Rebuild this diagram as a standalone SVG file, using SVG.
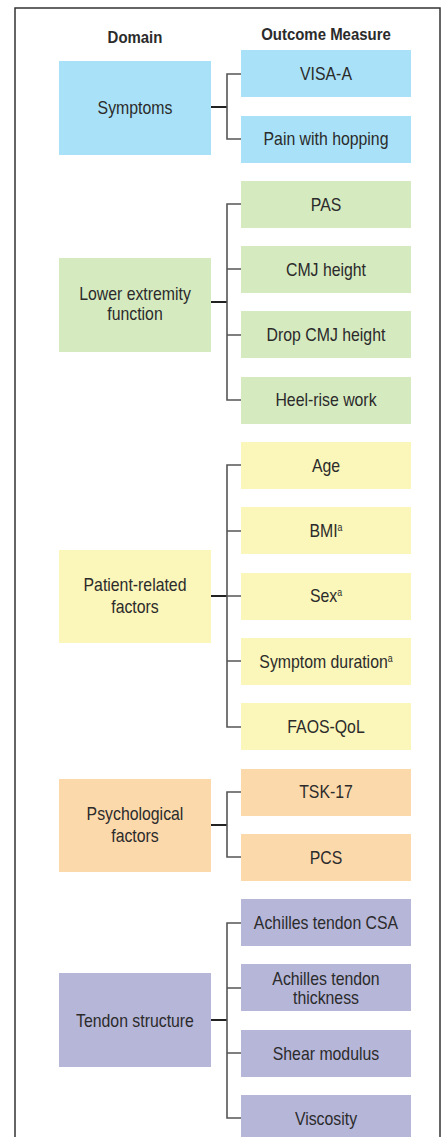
<svg xmlns="http://www.w3.org/2000/svg" width="445" height="1137" viewBox="0 0 445 1137">
<style>
text{font-family:"Liberation Sans",Arial,sans-serif;font-size:18px;fill:#2b2b2b;text-anchor:middle}
.h{font-weight:bold;font-size:17px}
.sup{font-size:10px}
.b{fill:#a9e2f8}.g{fill:#d6eac0}.y{fill:#fbf6b9}.o{fill:#fcd9ab}.p{fill:#b6b6d9}
.m{stroke:#222;stroke-width:2;fill:none}
.br{stroke:#555;stroke-width:1.6;fill:none}
</style>
<rect x="15" y="8" width="425" height="1140" fill="#fff" stroke="#333" stroke-width="1.5"/>
<g transform="scale(0.88 1)">
<text class="h" x="153.41" y="43">Domain</text>
<text class="h" x="370.45" y="40">Outcome Measure</text>
</g>
<g id="connectors">
<path class="m" d="M211 107H227"/><path class="br" d="M241 74H227V139H241"/>
<path class="m" d="M211 302H227"/><path class="br" d="M241 204H227V400H241M227 269H241M227 335H241"/>
<path class="m" d="M211 596H227"/><path class="br" d="M241 465H227V727H241M227 531H241M227 596H241M227 661H241"/>
<path class="m" d="M211 825H227"/><path class="br" d="M241 792H227V857H241"/>
<path class="m" d="M211 1020H227"/><path class="br" d="M241 923H227V1118H241M227 988H241M227 1053H241"/>
</g>
<g id="d-symptoms"><rect class="b" x="59" y="61" width="152" height="94"/><text transform="scale(0.88 1)" x="153.41" y="114">Symptoms</text></g>
<g id="o-visa"><rect class="b" x="241" y="50" width="170" height="47"/><text transform="scale(0.88 1)" x="370.45" y="80">VISA-A</text></g>
<g id="o-pain"><rect class="b" x="241" y="116" width="170" height="47"/><text transform="scale(0.88 1)" x="370.45" y="145">Pain with hopping</text></g>
<g id="d-lower"><rect class="g" x="59" y="258" width="152" height="94"/><text transform="scale(0.88 1)" x="153.41" y="300">Lower extremity</text><text transform="scale(0.88 1)" x="153.41" y="320">function</text></g>
<g id="o-pas"><rect class="g" x="241" y="181" width="170" height="47"/><text transform="scale(0.88 1)" x="370.45" y="211">PAS</text></g>
<g id="o-cmj"><rect class="g" x="241" y="246" width="170" height="47"/><text transform="scale(0.88 1)" x="370.45" y="276">CMJ height</text></g>
<g id="o-dcmj"><rect class="g" x="241" y="311" width="170" height="47"/><text transform="scale(0.88 1)" x="370.45" y="341">Drop CMJ height</text></g>
<g id="o-heel"><rect class="g" x="241" y="377" width="170" height="47"/><text transform="scale(0.88 1)" x="370.45" y="406">Heel-rise work</text></g>
<g id="d-patient"><rect class="y" x="59" y="550" width="152" height="93"/><text transform="scale(0.88 1)" x="153.41" y="591">Patient-related</text><text transform="scale(0.88 1)" x="153.41" y="613">factors</text></g>
<g id="o-age"><rect class="y" x="241" y="442" width="170" height="47"/><text transform="scale(0.88 1)" x="370.45" y="472">Age</text></g>
<g id="o-bmi"><rect class="y" x="241" y="507" width="170" height="47"/><text transform="scale(0.88 1)" x="370.45" y="537">BMI<tspan class="sup" dy="-6">a</tspan></text></g>
<g id="o-sex"><rect class="y" x="241" y="573" width="170" height="47"/><text transform="scale(0.88 1)" x="370.45" y="602">Sex<tspan class="sup" dy="-6">a</tspan></text></g>
<g id="o-dur"><rect class="y" x="241" y="638" width="170" height="47"/><text transform="scale(0.88 1)" x="370.45" y="668">Symptom duration<tspan class="sup" dy="-6">a</tspan></text></g>
<g id="o-faos"><rect class="y" x="241" y="703" width="170" height="47"/><text transform="scale(0.88 1)" x="370.45" y="733">FAOS-QoL</text></g>
<g id="d-psych"><rect class="o" x="59" y="779" width="152" height="93"/><text transform="scale(0.88 1)" x="153.41" y="820">Psychological</text><text transform="scale(0.88 1)" x="153.41" y="842">factors</text></g>
<g id="o-tsk"><rect class="o" x="241" y="769" width="170" height="47"/><text transform="scale(0.88 1)" x="370.45" y="798">TSK-17</text></g>
<g id="o-pcs"><rect class="o" x="241" y="834" width="170" height="47"/><text transform="scale(0.88 1)" x="370.45" y="864">PCS</text></g>
<g id="d-tendon"><rect class="p" x="59" y="973" width="152" height="94"/><text transform="scale(0.88 1)" x="153.41" y="1027">Tendon structure</text></g>
<g id="o-csa"><rect class="p" x="241" y="899" width="170" height="47"/><text transform="scale(0.88 1)" x="370.45" y="929">Achilles tendon CSA</text></g>
<g id="o-thick"><rect class="p" x="241" y="964" width="170" height="47"/><text transform="scale(0.88 1)" x="370.45" y="985.5">Achilles tendon</text><text transform="scale(0.88 1)" x="370.45" y="1004">thickness</text></g>
<g id="o-shear"><rect class="p" x="241" y="1030" width="170" height="47"/><text transform="scale(0.88 1)" x="370.45" y="1060">Shear modulus</text></g>
<g id="o-visc"><rect class="p" x="241" y="1095" width="170" height="47"/><text transform="scale(0.88 1)" x="370.45" y="1125">Viscosity</text></g>
</svg>
